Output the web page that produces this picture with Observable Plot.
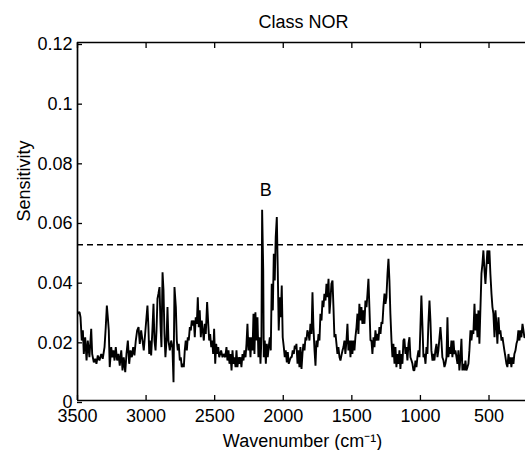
<!DOCTYPE html>
<html><head><meta charset="utf-8">
<script src="https://cdn.jsdelivr.net/npm/d3@7"></script>
<script src="https://cdn.jsdelivr.net/npm/@observablehq/plot@0.6"></script>
<style>
html,body{margin:0;padding:0;background:#fff;overflow:hidden;}
#chart svg{display:block;}
</style></head><body><div id="chart"></div>
<script>
const wavenumbers = [
3500,3493,3485,3478,3469,3461,3454,3444,3434,3425,3413,3400,3393,3381,3371,3362,3352,3340,3327,3316,
3303,3294,3286,3279,3272,3265,3254,3247,3238,3230,3221,3211,3201,3192,3181,3172,3163,3152,3143,3133,
3123,3114,3104,3094,3085,3075,3065,3055,3046,3036,3026,3017,3007,2997,2990,2983,2977,2973,2963,2953,
2946,2939,2931,2924,2917,2910,2902,2895,2888,2880,2873,2866,2859,2851,2844,2837,2827,2817,2808,2800,
2793,2783,2776,2769,2762,2754,2747,2740,2732,2725,2718,2711,2703,2696,2689,2681,2674,2667,2660,2652,
2645,2638,2630,2623,2616,2609,2601,2594,2587,2579,2572,2565,2555,2547,2540,2533,2525,2518,2511,2504,
2496,2489,2482,2474,2467,2460,2453,2443,2434,2423,2414,2407,2399,2392,2385,2377,2370,2363,2356,2348,
2341,2334,2326,2319,2312,2305,2297,2290,2283,2275,2268,2261,2254,2246,2239,2232,2224,2217,2210,2203,
2195,2188,2181,2173,2166,2159,2154,2146,2142,2135,2127,2120,2113,2106,2098,2091,2084,2076,2069,2062,
2055,2047,2040,2033,2025,2018,2011,2004,1996,1989,1982,1974,1967,1960,1953,1945,1938,1931,1923,1916,
1909,1904,1896,1889,1882,1875,1867,1860,1853,1845,1838,1831,1824,1816,1809,1802,1794,1787,1780,1772,
1765,1758,1751,1743,1736,1729,1721,1714,1707,1700,1692,1685,1678,1670,1663,1656,1649,1641,1634,1627,
1619,1612,1605,1598,1590,1583,1576,1568,1561,1554,1547,1539,1532,1525,1517,1510,1503,1496,1488,1481,
1474,1466,1459,1452,1445,1437,1430,1423,1415,1408,1401,1393,1386,1379,1372,1364,1357,1350,1342,1335,
1328,1321,1313,1306,1299,1291,1284,1277,1270,1262,1255,1248,1240,1233,1226,1219,1211,1204,1197,1189,
1182,1175,1168,1160,1153,1146,1138,1131,1124,1117,1109,1102,1095,1087,1080,1073,1065,1058,1051,1044,
1036,1029,1022,1014,1007,1000,993,985,978,971,963,956,949,942,934,927,920,912,905,898,
891,883,876,869,861,854,847,840,832,825,818,810,803,796,788,781,774,767,759,752,
745,737,730,723,716,708,701,694,686,679,672,665,657,650,643,635,628,621,614,606,
599,592,584,577,570,563,555,548,541,533,526,519,512,504,497,490,482,475,468,460,
453,446,439,431,424,417,409,402,395,388,380,373,366,358,351,344,337,329,322,315,
307,300,293,286,278,271,264,256,249,242
];
const sensitivity = [
0.0290,0.0295,0.0296,0.0279,0.0201,0.0235,0.0156,0.0212,0.0134,0.0201,0.0145,0.0240,0.0156,0.0128,0.0140,0.0123,0.0151,0.0134,0.0156,0.0140,
0.0179,0.0246,0.0318,0.0279,0.0235,0.0112,0.0179,0.0145,0.0168,0.0134,0.0179,0.0134,0.0156,0.0117,0.0168,0.0101,0.0145,0.0095,0.0156,0.0201,
0.0123,0.0168,0.0145,0.0179,0.0151,0.0201,0.0235,0.0246,0.0190,0.0235,0.0201,0.0168,0.0223,0.0279,0.0318,0.0246,0.0156,0.0201,0.0151,0.0246,
0.0324,0.0201,0.0168,0.0235,0.0341,0.0358,0.0380,0.0257,0.0179,0.0430,0.0369,0.0223,0.0145,0.0201,0.0313,0.0201,0.0168,0.0201,0.0179,0.0061,
0.0380,0.0313,0.0201,0.0168,0.0190,0.0134,0.0145,0.0112,0.0123,0.0112,0.0168,0.0201,0.0168,0.0212,0.0201,0.0246,0.0235,0.0268,0.0251,0.0268,
0.0212,0.0279,0.0257,0.0346,0.0246,0.0302,0.0212,0.0268,0.0235,0.0201,0.0257,0.0223,0.0330,0.0257,0.0201,0.0223,0.0179,0.0201,0.0156,0.0240,
0.0123,0.0190,0.0156,0.0179,0.0145,0.0156,0.0168,0.0145,0.0156,0.0145,0.0179,0.0134,0.0168,0.0123,0.0156,0.0101,0.0168,0.0123,0.0145,0.0112,
0.0168,0.0112,0.0145,0.0123,0.0145,0.0112,0.0156,0.0134,0.0168,0.0145,0.0190,0.0257,0.0168,0.0212,0.0145,0.0212,0.0168,0.0291,0.0156,0.0296,
0.0201,0.0279,0.0145,0.0212,0.0123,0.0212,0.0639,0.0436,0.0145,0.0201,0.0123,0.0190,0.0145,0.0179,0.0212,0.0168,0.0391,0.0302,0.0492,0.0402,
0.0547,0.0615,0.0436,0.0235,0.0346,0.0279,0.0385,0.0212,0.0179,0.0145,0.0168,0.0128,0.0162,0.0123,0.0134,0.0145,0.0145,0.0168,0.0156,0.0184,
0.0173,0.0190,0.0123,0.0168,0.0112,0.0179,0.0106,0.0156,0.0190,0.0168,0.0212,0.0201,0.0235,0.0223,0.0201,0.0257,0.0223,0.0363,0.0246,0.0168,
0.0117,0.0201,0.0179,0.0223,0.0201,0.0291,0.0268,0.0335,0.0313,0.0358,0.0335,0.0391,0.0346,0.0408,0.0291,0.0335,0.0391,0.0402,0.0313,0.0212,
0.0223,0.0190,0.0156,0.0179,0.0145,0.0134,0.0151,0.0168,0.0179,0.0201,0.0156,0.0201,0.0257,0.0168,0.0201,0.0145,0.0201,0.0156,0.0201,0.0168,
0.0212,0.0246,0.0291,0.0223,0.0324,0.0268,0.0313,0.0257,0.0302,0.0257,0.0335,0.0313,0.0358,0.0408,0.0313,0.0201,0.0201,0.0156,0.0212,0.0179,
0.0235,0.0201,0.0223,0.0201,0.0246,0.0223,0.0263,0.0257,0.0313,0.0358,0.0324,0.0346,0.0425,0.0475,0.0402,0.0291,0.0201,0.0145,0.0190,0.0123,
0.0179,0.0112,0.0156,0.0123,0.0168,0.0106,0.0156,0.0123,0.0201,0.0207,0.0156,0.0179,0.0134,0.0190,0.0212,0.0145,0.0134,0.0123,0.0101,0.0101,
0.0134,0.0112,0.0145,0.0168,0.0145,0.0246,0.0352,0.0246,0.0145,0.0156,0.0123,0.0179,0.0156,0.0257,0.0335,0.0268,0.0168,0.0134,0.0156,0.0134,
0.0168,0.0190,0.0145,0.0168,0.0212,0.0246,0.0201,0.0145,0.0134,0.0112,0.0123,0.0145,0.0279,0.0145,0.0179,0.0156,0.0201,0.0145,0.0201,0.0156,
0.0168,0.0145,0.0123,0.0168,0.0101,0.0145,0.0207,0.0101,0.0123,0.0101,0.0134,0.0101,0.0112,0.0123,0.0168,0.0235,0.0201,0.0235,0.0223,0.0324,
0.0235,0.0291,0.0212,0.0302,0.0190,0.0302,0.0425,0.0458,0.0503,0.0436,0.0391,0.0447,0.0503,0.0458,0.0503,0.0425,0.0358,0.0313,0.0291,0.0212,
0.0302,0.0257,0.0190,0.0279,0.0223,0.0235,0.0201,0.0212,0.0190,0.0168,0.0145,0.0123,0.0112,0.0156,0.0123,0.0145,0.0112,0.0145,0.0123,0.0156,
0.0168,0.0190,0.0201,0.0235,0.0201,0.0235,0.0212,0.0257,0.0235,0.0212
];
const threshold = 0.0522;
const xTicks = [3500, 3000, 2500, 2000, 1500, 1000, 500];
const yTicks = [0, 0.02, 0.04, 0.06, 0.08, 0.1, 0.12];
const yTickLabels = ["0", "0.02", "0.04", "0.06", "0.08", "0.1", "0.12"];
const xDomain = [3500, 234];
const yDomain = [0, 0.12];
const peakLabels = ["B"];
const peakWn = [2127];
const peakY = [0.0684];
const titleText = "Class NOR";
const xLabelText = "Wavenumber (cm\u207B\u00B9)";
const yLabelText = "Sensitivity";

const data = wavenumbers.map((w, i) => ({wn: w, s: sensitivity[i]}));
const peaks = peakLabels.map((t, i) => ({wn: peakWn[i], s: peakY[i], label: t}));
const font = "'Liberation Sans', Arial, Helvetica, sans-serif";

const chart = Plot.plot({
  width: 525, height: 450,
  marginLeft: 77, marginRight: 0, marginTop: 42, marginBottom: 50,
  style: {fontFamily: font, fontSize: "18px", color: "#000", background: "#fff", overflow: "visible"},
  x: {domain: xDomain},
  y: {domain: yDomain},
  marks: [
    Plot.ruleY([threshold], {stroke: "#000", strokeWidth: 1.4, strokeDasharray: "6,4"}),
    Plot.line(data, {x: "wn", y: "s", stroke: "#000", strokeWidth: 1.9, strokeLinejoin: "miter", clip: true}),
    Plot.ruleY([yDomain[1]], {stroke: "#000", strokeWidth: 1.7}),
    Plot.ruleY([yDomain[0]], {stroke: "#000", strokeWidth: 1.7}),
    Plot.ruleX([xDomain[0]], {stroke: "#000", strokeWidth: 1.7}),
    Plot.axisX({anchor: "bottom", ticks: xTicks, tickSize: -5, tickPadding: 14, tickFormat: "d", label: null, strokeWidth: 1.3}),
    Plot.axisX({anchor: "top", ticks: xTicks, tickSize: -5, tickFormat: () => "", label: null, strokeWidth: 1.3}),
    Plot.axisY({anchor: "left", ticks: yTicks, tickSize: -5, tickPadding: 10, dy: 2, strokeWidth: 1.3,
      tickFormat: (d) => yTickLabels[yTicks.indexOf(d)], label: null}),
    Plot.text([titleText], {frameAnchor: "top", dy: -15, dx: 2, lineAnchor: "bottom"}),
    Plot.text([xLabelText], {frameAnchor: "bottom", dy: 46, dx: 1, lineAnchor: "bottom"}),
    Plot.text([yLabelText], {frameAnchor: "left", rotate: -90, dx: -48, lineAnchor: "bottom"}),
    Plot.text(peaks, {x: "wn", y: "s", text: "label", lineAnchor: "bottom"})
  ]
});
document.getElementById("chart").append(chart);
</script></body></html>
